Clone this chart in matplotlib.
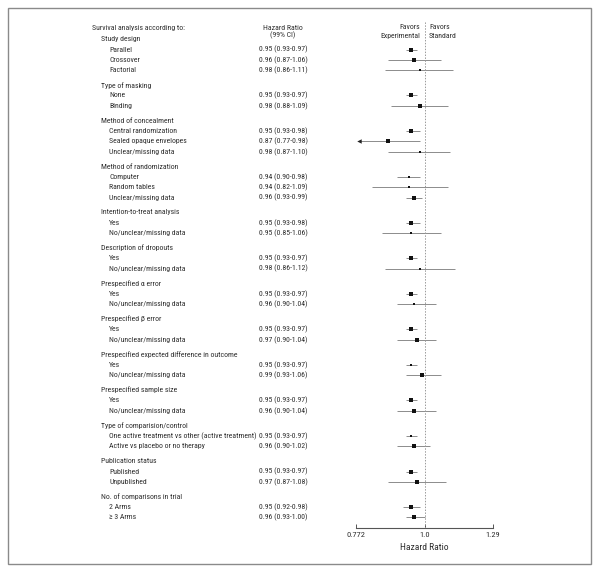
import matplotlib.pyplot as plt
import matplotlib.transforms as mtransforms
from matplotlib.patches import Rectangle

plt.rcParams['font.family'] = ['Roboto Condensed', 'Archivo Narrow',
                               'Liberation Sans Narrow', 'Liberation Sans',
                               'DejaVu Sans']

groups = ['Study design', 'Type of masking', 'Method of concealment',
          'Method of randomization', 'Intention-to-treat analysis',
          'Description of dropouts', 'Prespecified \u03b1 error',
          'Prespecified \u03b2 error',
          'Prespecified expected difference in outcome',
          'Prespecified sample size', 'Type of comparision/control',
          'Publication status', 'No. of comparisons in trial']

labels = [
    ['Parallel', 'Crossover', 'Factorial'],
    ['None', 'Binding'],
    ['Central randomization', 'Sealed opaque envelopes', 'Unclear/missing data'],
    ['Computer', 'Random tables', 'Unclear/missing data'],
    ['Yes', 'No/unclear/missing data'],
    ['Yes', 'No/unclear/missing data'],
    ['Yes', 'No/unclear/missing data'],
    ['Yes', 'No/unclear/missing data'],
    ['Yes', 'No/unclear/missing data'],
    ['Yes', 'No/unclear/missing data'],
    ['One active treatment vs other (active treatment)', 'Active vs placebo or no therapy'],
    ['Published', 'Unpublished'],
    ['2 Arms', '\u2265 3 Arms'],
]

hr = [[0.95, 0.96, 0.98], [0.95, 0.98], [0.95, 0.87, 0.98], [0.94, 0.94, 0.96],
      [0.95, 0.95], [0.95, 0.98], [0.95, 0.96], [0.95, 0.97], [0.95, 0.99],
      [0.95, 0.96], [0.95, 0.96], [0.95, 0.97], [0.95, 0.96]]
lo = [[0.93, 0.87, 0.86], [0.93, 0.88], [0.93, 0.77, 0.87], [0.90, 0.82, 0.93],
      [0.93, 0.85], [0.93, 0.86], [0.93, 0.90], [0.93, 0.90], [0.93, 0.93],
      [0.93, 0.90], [0.93, 0.90], [0.93, 0.87], [0.92, 0.93]]
hi = [[0.97, 1.06, 1.11], [0.97, 1.09], [0.98, 0.98, 1.10], [0.98, 1.09, 0.99],
      [0.98, 1.06], [0.97, 1.12], [0.97, 1.04], [0.97, 1.04], [0.97, 1.06],
      [0.97, 1.04], [0.97, 1.02], [0.97, 1.08], [0.98, 1.00]]
# relative weight of each estimate (1 small .. 3 large)
weight = [[2, 3, 1], [2, 3], [2, 3, 1], [1, 1, 3], [3, 1], [3, 1], [2, 1],
          [3, 3], [1, 2], [2, 2], [1, 3], [3, 3], [3, 3]]

xmin, xmax = 0.772, 1.29
ticks = [0.772, 1.0, 1.29]

W, H = 600, 571
fig = plt.figure(figsize=(W / 100, H / 100), dpi=100)
fig.add_artist(Rectangle((8 / W, 1 - 564 / H), 583 / W, 556 / H,
                         transform=fig.transFigure, fill=False,
                         edgecolor='#8a8a8a', lw=1))

ax = fig.add_axes([356 / W, 1 - 528.3 / H, 137 / W, 507.3 / H])
txt = '#2e2e2e'
fs = 5.6

# row layout: header, then items; a bigger gap between groups
y = 0.0
rows = []
for gi, g in enumerate(groups):
    if gi > 0:
        y += 1.44
    rows.append(('h', g, y, None))
    for j in range(len(labels[gi])):
        y += 1.0
        rows.append(('i', labels[gi][j], y, (hr[gi][j], lo[gi][j], hi[gi][j], weight[gi][j])))

trans = mtransforms.blended_transform_factory(fig.transFigure, ax.transData)
msize = {1: 2.1, 2: 2.7, 3: 3.4}
for kind, lab, yy, vals in rows:
    if kind == 'h':
        fig.text(101 / W, yy, lab, transform=trans, va='center', ha='left',
                 fontsize=fs, color=txt)
        continue
    fig.text(109 / W, yy, lab, transform=trans, va='center', ha='left',
             fontsize=fs, color=txt)
    h, l, u, w = vals
    fig.text(259 / W, yy, f'{h:.2f} ({l:.2f}-{u:.2f})', transform=trans,
             va='center', ha='left', fontsize=fs, color=txt)
    left = max(l, xmin * 1.012)
    ax.plot([left, min(u, xmax)], [yy, yy], color='#8c8c8c', lw=0.7,
            solid_capstyle='butt')
    if l < xmin:
        ax.plot(xmin * 1.012, yy, marker='<', color='#222222', ms=3.2,
                markeredgewidth=0)
    ax.plot(h, yy, marker='s', color='#111111', ms=msize[w],
            markeredgewidth=0)

ax.axvline(1.0, color='#9a9a9a', lw=0.7, ls=(0, (1.5, 1.5)))

ax.set_xscale('log')
ax.set_xlim(xmin, xmax)
ax.set_ylim((528.3 - 39.3) / 10.33, (21 - 39.3) / 10.33)
ax.set_xticks(ticks)
ax.set_xticklabels(['0.772', '1.0', '1.29'])
ax.minorticks_off()
ax.tick_params(axis='x', direction='in', length=3, width=0.7, color='#555555',
               labelsize=fs + 0.4, labelcolor=txt, pad=3)
ax.set_yticks([])
for s in ['left', 'right', 'top']:
    ax.spines[s].set_visible(False)
ax.spines['bottom'].set_color('#555555')
ax.spines['bottom'].set_linewidth(0.8)
ax.set_xlabel('Hazard Ratio', fontsize=fs + 1.2, color=txt, labelpad=3)
ax.patch.set_alpha(0)

# column headers
fig.text(92 / W, 1 - 27.7 / H, 'Survival analysis according to:', va='center',
         ha='left', fontsize=fs, color=txt)
fig.text(283 / W, 1 - 27.7 / H, 'Hazard Ratio', va='center', ha='center',
         fontsize=fs, color=txt)
fig.text(283 / W, 1 - 35.5 / H, '(99% CI)', va='center', ha='center',
         fontsize=fs, color=txt)
fig.text(420 / W, 1 - 27.3 / H, 'Favors', va='center', ha='right',
         fontsize=fs, color=txt)
fig.text(420 / W, 1 - 35.7 / H, 'Experimental', va='center', ha='right',
         fontsize=fs, color=txt)
fig.text(429 / W, 1 - 27.3 / H, 'Favors', va='center', ha='left',
         fontsize=fs, color=txt)
fig.text(429 / W, 1 - 35.7 / H, 'Standard', va='center', ha='left',
         fontsize=fs, color=txt)

fig.savefig('out.png', dpi=100, facecolor='white')
